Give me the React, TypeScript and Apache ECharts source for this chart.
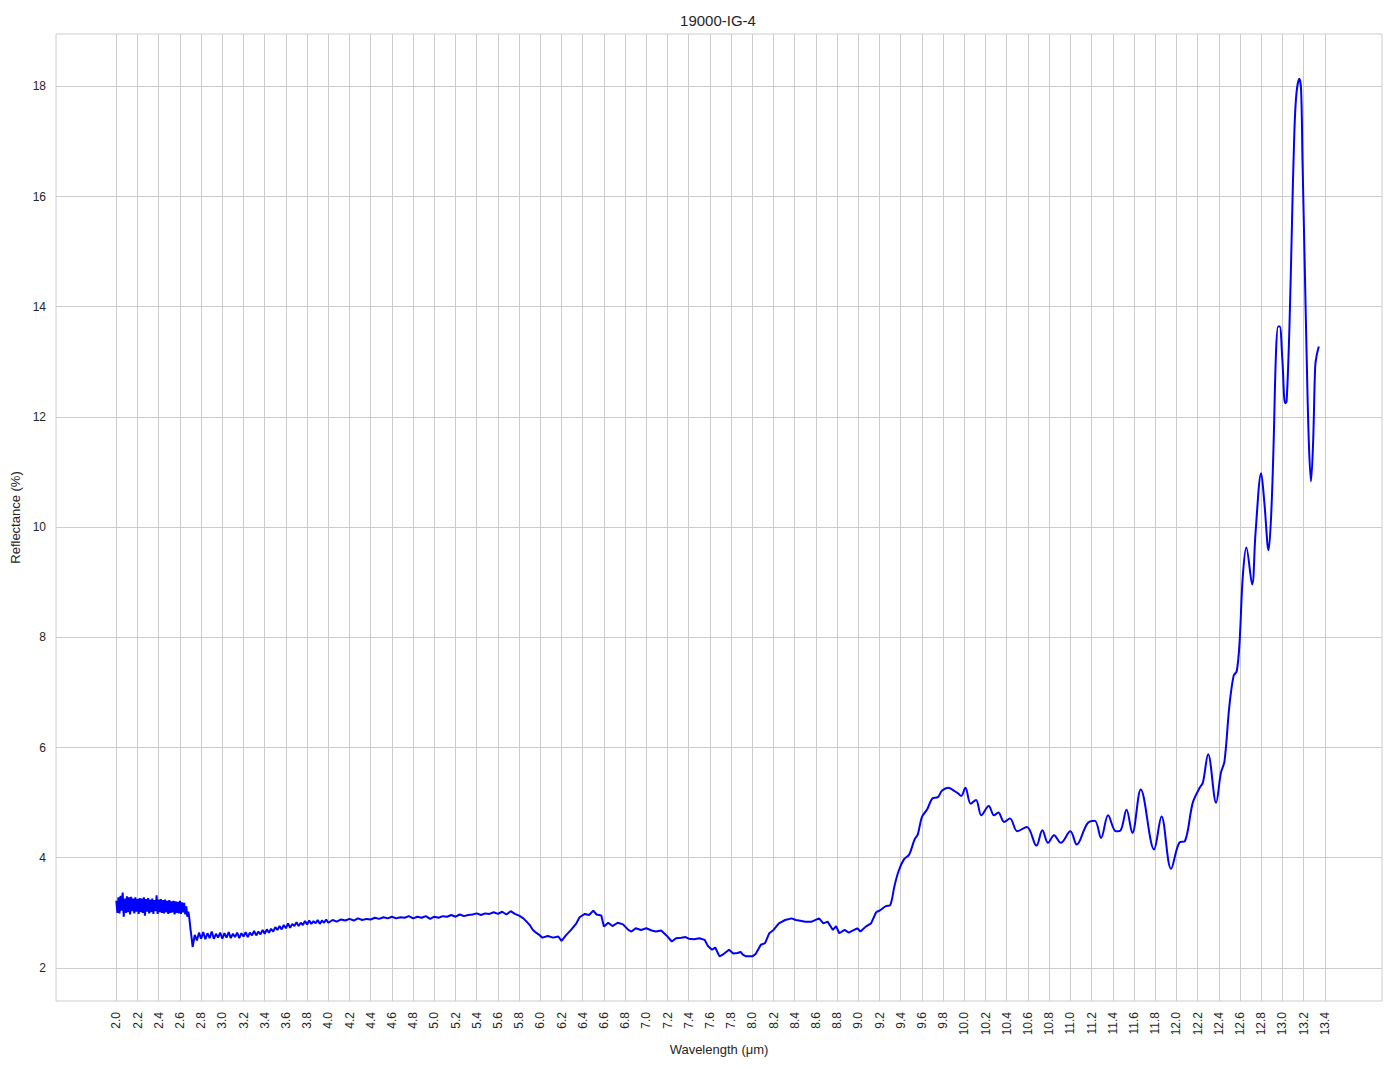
import React, { useEffect, useRef } from "react";
import * as echarts from "echarts";

// ---- Data ----
const TITLE = "19000-IG-4";
const X_NAME = "Wavelength (μm)";
const Y_NAME = "Reflectance (%)";

const xTicks = [
  2.0, 2.2, 2.4, 2.6, 2.8, 3.0, 3.2, 3.4, 3.6, 3.8, 4.0, 4.2, 4.4, 4.6, 4.8, 5.0, 5.2, 5.4, 5.6, 5.8,
  6.0, 6.2, 6.4, 6.6, 6.8, 7.0, 7.2, 7.4, 7.6, 7.8, 8.0, 8.2, 8.4, 8.6, 8.8, 9.0, 9.2, 9.4, 9.6, 9.8,
  10.0, 10.2, 10.4, 10.6, 10.8, 11.0, 11.2, 11.4, 11.6, 11.8, 12.0, 12.2, 12.4, 12.6, 12.8, 13.0, 13.2, 13.4,
];
const yTicks = [2, 4, 6, 8, 10, 12, 14, 16, 18];

// Noisy start of the spectrum, sampled every 0.01 µm from 2.00 µm
const noisyStart = 2.0;
const noisyStep = 0.01;
const noisyReflectance = [
  3.22, 3.0, 3.28, 2.99, 3.31, 3.04, 3.37, 2.93, 3.26, 3.0,
  3.3, 3.01, 3.28, 2.97, 3.29, 3.03, 3.26, 2.99, 3.28, 3.02,
  3.25, 2.98, 3.27, 3.01, 3.26, 3.0, 3.28, 2.95, 3.25, 3.02,
  3.27, 2.99, 3.24, 3.01, 3.26, 2.98, 3.23, 3.03, 3.32, 2.98,
  3.24, 3.01, 3.25, 3.0, 3.23, 2.99, 3.24, 3.01, 3.22, 2.98,
  3.23, 3.0, 3.21, 3.01, 3.22, 2.97, 3.21, 3.0, 3.2, 2.99,
  3.22, 2.98, 3.19, 3.01, 3.18, 2.97, 3.12, 2.93, 3.02, 2.88,
  2.7, 2.55, 2.38,
];

// Low-noise plateau, sampled every 0.02 µm from 2.74 µm
const plateauStart = 2.74;
const plateauStep = 0.02;
const plateauReflectance = [
  2.6, 2.5, 2.64, 2.53, 2.65, 2.52, 2.63, 2.54, 2.66, 2.53,
  2.62, 2.55, 2.64, 2.53, 2.63, 2.55, 2.65, 2.54, 2.62, 2.56,
  2.64, 2.54, 2.63, 2.57, 2.65, 2.56, 2.64, 2.59, 2.67, 2.59,
  2.66, 2.61, 2.69, 2.62, 2.7, 2.64, 2.71, 2.66, 2.74, 2.69,
  2.76, 2.7, 2.78, 2.72, 2.81, 2.73, 2.8, 2.76, 2.83, 2.76,
  2.82, 2.78, 2.85, 2.79, 2.86, 2.8, 2.85, 2.81, 2.87, 2.8,
  2.86, 2.82, 2.88, 2.82,
];

// Mid range (µm, %)
const midWavelength = [
  4.04, 4.08, 4.12, 4.16, 4.2, 4.24, 4.28, 4.32, 4.36, 4.4, 4.44, 4.48, 4.52, 4.56, 4.6, 4.64, 4.68, 4.72,
  4.76, 4.8, 4.84, 4.88, 4.92, 4.96, 5.0, 5.04, 5.08, 5.12, 5.16, 5.2, 5.24, 5.28, 5.32, 5.36, 5.4, 5.44,
  5.48, 5.52, 5.56, 5.6, 5.64, 5.68, 5.72, 5.76, 5.8, 5.84, 5.87, 5.9, 5.93, 5.96, 5.99, 6.02, 6.07, 6.12,
  6.17, 6.2, 6.245, 6.29, 6.34, 6.37, 6.42, 6.46, 6.5, 6.53, 6.575, 6.6, 6.64, 6.68, 6.73, 6.78, 6.83, 6.86,
  6.9, 6.95, 7.0, 7.05, 7.09, 7.14, 7.19, 7.24, 7.28, 7.33, 7.37, 7.4, 7.45, 7.5, 7.55, 7.58, 7.62, 7.65,
  7.69, 7.72, 7.78, 7.82, 7.86, 7.89, 7.91, 7.94, 8.0, 8.03, 8.08, 8.12, 8.16, 8.2, 8.25, 8.31, 8.37, 8.41,
  8.44, 8.5, 8.56, 8.63, 8.67, 8.71, 8.76, 8.79, 8.82, 8.87, 8.91, 8.95, 8.99, 9.02, 9.07, 9.12, 9.17,
];
const midReflectance = [
  2.87, 2.84, 2.88, 2.86, 2.89, 2.86, 2.9, 2.87, 2.89, 2.88, 2.91, 2.89, 2.92, 2.9, 2.93, 2.9, 2.92, 2.91,
  2.94, 2.9, 2.93, 2.91, 2.94, 2.89, 2.93, 2.91, 2.94, 2.93, 2.96, 2.93, 2.97, 2.94, 2.96, 2.97, 2.99, 2.96,
  2.99, 2.98, 3.01, 2.98, 3.02, 2.97, 3.03, 2.98, 2.95, 2.9, 2.84, 2.78, 2.69, 2.64, 2.6, 2.55, 2.58, 2.55,
  2.57, 2.49, 2.6, 2.69, 2.81, 2.92, 2.98, 2.96, 3.04, 2.97, 2.95, 2.75, 2.82, 2.76, 2.82, 2.79, 2.69, 2.66,
  2.72, 2.69, 2.72, 2.68, 2.66, 2.68, 2.59, 2.48, 2.54, 2.55, 2.56, 2.53, 2.52, 2.54, 2.51, 2.4, 2.33, 2.37,
  2.21, 2.24, 2.33, 2.26, 2.27, 2.29, 2.24, 2.21, 2.21, 2.25, 2.42, 2.45, 2.63, 2.69, 2.81, 2.87, 2.9, 2.87,
  2.86, 2.84, 2.84, 2.9, 2.81, 2.84, 2.69, 2.76, 2.63, 2.69, 2.64, 2.68, 2.72, 2.66, 2.75, 2.81, 3.02,
];

// Long-wave range with smooth oscillations (µm, %)
const farWavelength = [
  9.17, 9.2, 9.26, 9.3, 9.34, 9.38, 9.43, 9.48, 9.53, 9.56, 9.6, 9.65, 9.7, 9.75, 9.79, 9.85, 9.9, 9.94,
  9.97, 10.01, 10.06, 10.11, 10.16, 10.23, 10.28, 10.32, 10.375, 10.43, 10.5, 10.59, 10.68, 10.736, 10.79,
  10.846, 10.91, 11.0, 11.06, 11.16, 11.23, 11.29, 11.356, 11.43, 11.475, 11.53, 11.585, 11.664, 11.79,
  11.86, 11.95, 12.03, 12.08, 12.155, 12.22, 12.25, 12.3, 12.375, 12.42, 12.454, 12.5, 12.54, 12.57,
  12.596, 12.627, 12.66, 12.715, 12.747, 12.8, 12.83, 12.87, 12.894, 12.916, 12.94, 12.96, 12.975, 13.0,
  13.026, 13.04, 13.067, 13.09, 13.11, 13.13, 13.16, 13.177, 13.19, 13.21, 13.23, 13.25, 13.27, 13.29,
  13.31, 13.325, 13.344,
];
const farReflectance = [
  3.02, 3.04, 3.12, 3.14, 3.48, 3.76, 3.97, 4.06, 4.33, 4.42, 4.74, 4.88, 5.08, 5.1, 5.22, 5.27, 5.22, 5.17,
  5.12, 5.27, 4.98, 5.05, 4.77, 4.94, 4.77, 4.82, 4.65, 4.71, 4.48, 4.56, 4.22, 4.5, 4.27,
  4.41, 4.27, 4.48, 4.24, 4.62, 4.67, 4.36, 4.77, 4.48, 4.5, 4.87, 4.45, 5.24, 4.15,
  4.75, 3.8, 4.28, 4.3, 5.0, 5.27, 5.36, 5.88, 5.0, 5.54, 5.75, 6.75, 7.3, 7.39,
  7.9, 9.11, 9.63, 8.96, 9.9, 10.98, 10.45, 9.58, 10.2, 11.41, 13.16, 13.64, 13.64, 13.04,
  12.25, 12.28, 13.64, 15.45, 16.96, 17.81, 18.14, 17.93, 16.66, 14.85, 13.04, 11.53, 10.83, 11.53,
  12.92, 13.13, 13.28,
];

const TEXT = "#262626";
const GRID = "#cccccc";
const FONT = "'Liberation Sans', Arial, 'DejaVu Sans', sans-serif";

export default function App() {
  const ref = useRef<HTMLDivElement>(null);

  useEffect(() => {
    if (!ref.current) return;
    const chart = echarts.init(ref.current, undefined, { renderer: "svg" });

    const roughData: number[][] = [];
    noisyReflectance.forEach((v, i) => roughData.push([+(noisyStart + i * noisyStep).toFixed(3), v]));
    plateauReflectance.forEach((v, i) => roughData.push([+(plateauStart + i * plateauStep).toFixed(3), v]));
    midWavelength.forEach((w, i) => roughData.push([w, midReflectance[i]]));
    const farData = farWavelength.map((w, i) => [w, farReflectance[i]]);

    chart.setOption({
      animation: false,
      backgroundColor: "#ffffff",
      textStyle: { fontFamily: FONT },
      title: {
        text: TITLE,
        left: 713,
        top: 8,
        textAlign: "center",
        textStyle: { color: TEXT, fontSize: 15, fontWeight: "normal", fontFamily: FONT },
      },
      grid: {
        left: 56,
        right: 12,
        top: 34,
        bottom: 68,
        show: true,
        borderColor: GRID,
        borderWidth: 1,
        backgroundColor: "#ffffff",
      },
      xAxis: {
        type: "value",
        min: 1.431,
        max: 13.94,
        name: X_NAME,
        nameLocation: "middle",
        nameGap: 40,
        nameTextStyle: { color: TEXT, fontSize: 13, fontFamily: FONT },
        axisLine: { show: false },
        axisTick: { show: false, customValues: xTicks },
        axisLabel: {
          customValues: xTicks,
          rotate: 90,
          margin: 11,
          color: TEXT,
          fontSize: 12,
          fontFamily: FONT,
          formatter: (v: number) => v.toFixed(1),
        },
        splitLine: { show: true, lineStyle: { color: GRID, width: 1 } },
      },
      yAxis: {
        type: "value",
        min: 1.4,
        max: 18.95,
        name: Y_NAME,
        nameLocation: "middle",
        nameGap: 30,
        nameRotate: 90,
        nameTextStyle: { color: TEXT, fontSize: 13, fontFamily: FONT },
        axisLine: { show: false },
        axisTick: { show: false, customValues: yTicks },
        axisLabel: {
          customValues: yTicks,
          margin: 10,
          color: TEXT,
          fontSize: 12,
          fontFamily: FONT,
          formatter: (v: number) => String(v),
        },
        splitLine: { show: true, lineStyle: { color: GRID, width: 1 } },
      },
      series: [
        {
          type: "line",
          data: roughData,
          showSymbol: false,
          symbol: "none",
          lineStyle: { color: "#0000ff", width: 2 },
          itemStyle: { color: "#0000ff" },
          z: 3,
        },
        {
          type: "line",
          data: farData,
          showSymbol: false,
          symbol: "none",
          smooth: 0.35,
          lineStyle: { color: "#0000ff", width: 2 },
          itemStyle: { color: "#0000ff" },
          z: 3,
        },
      ],
    });

    return () => chart.dispose();
  }, []);

  return (
    <div
      ref={ref}
      style={{ position: "absolute", left: 0, top: 0, width: 1394, height: 1069 }}
    />
  );
}
